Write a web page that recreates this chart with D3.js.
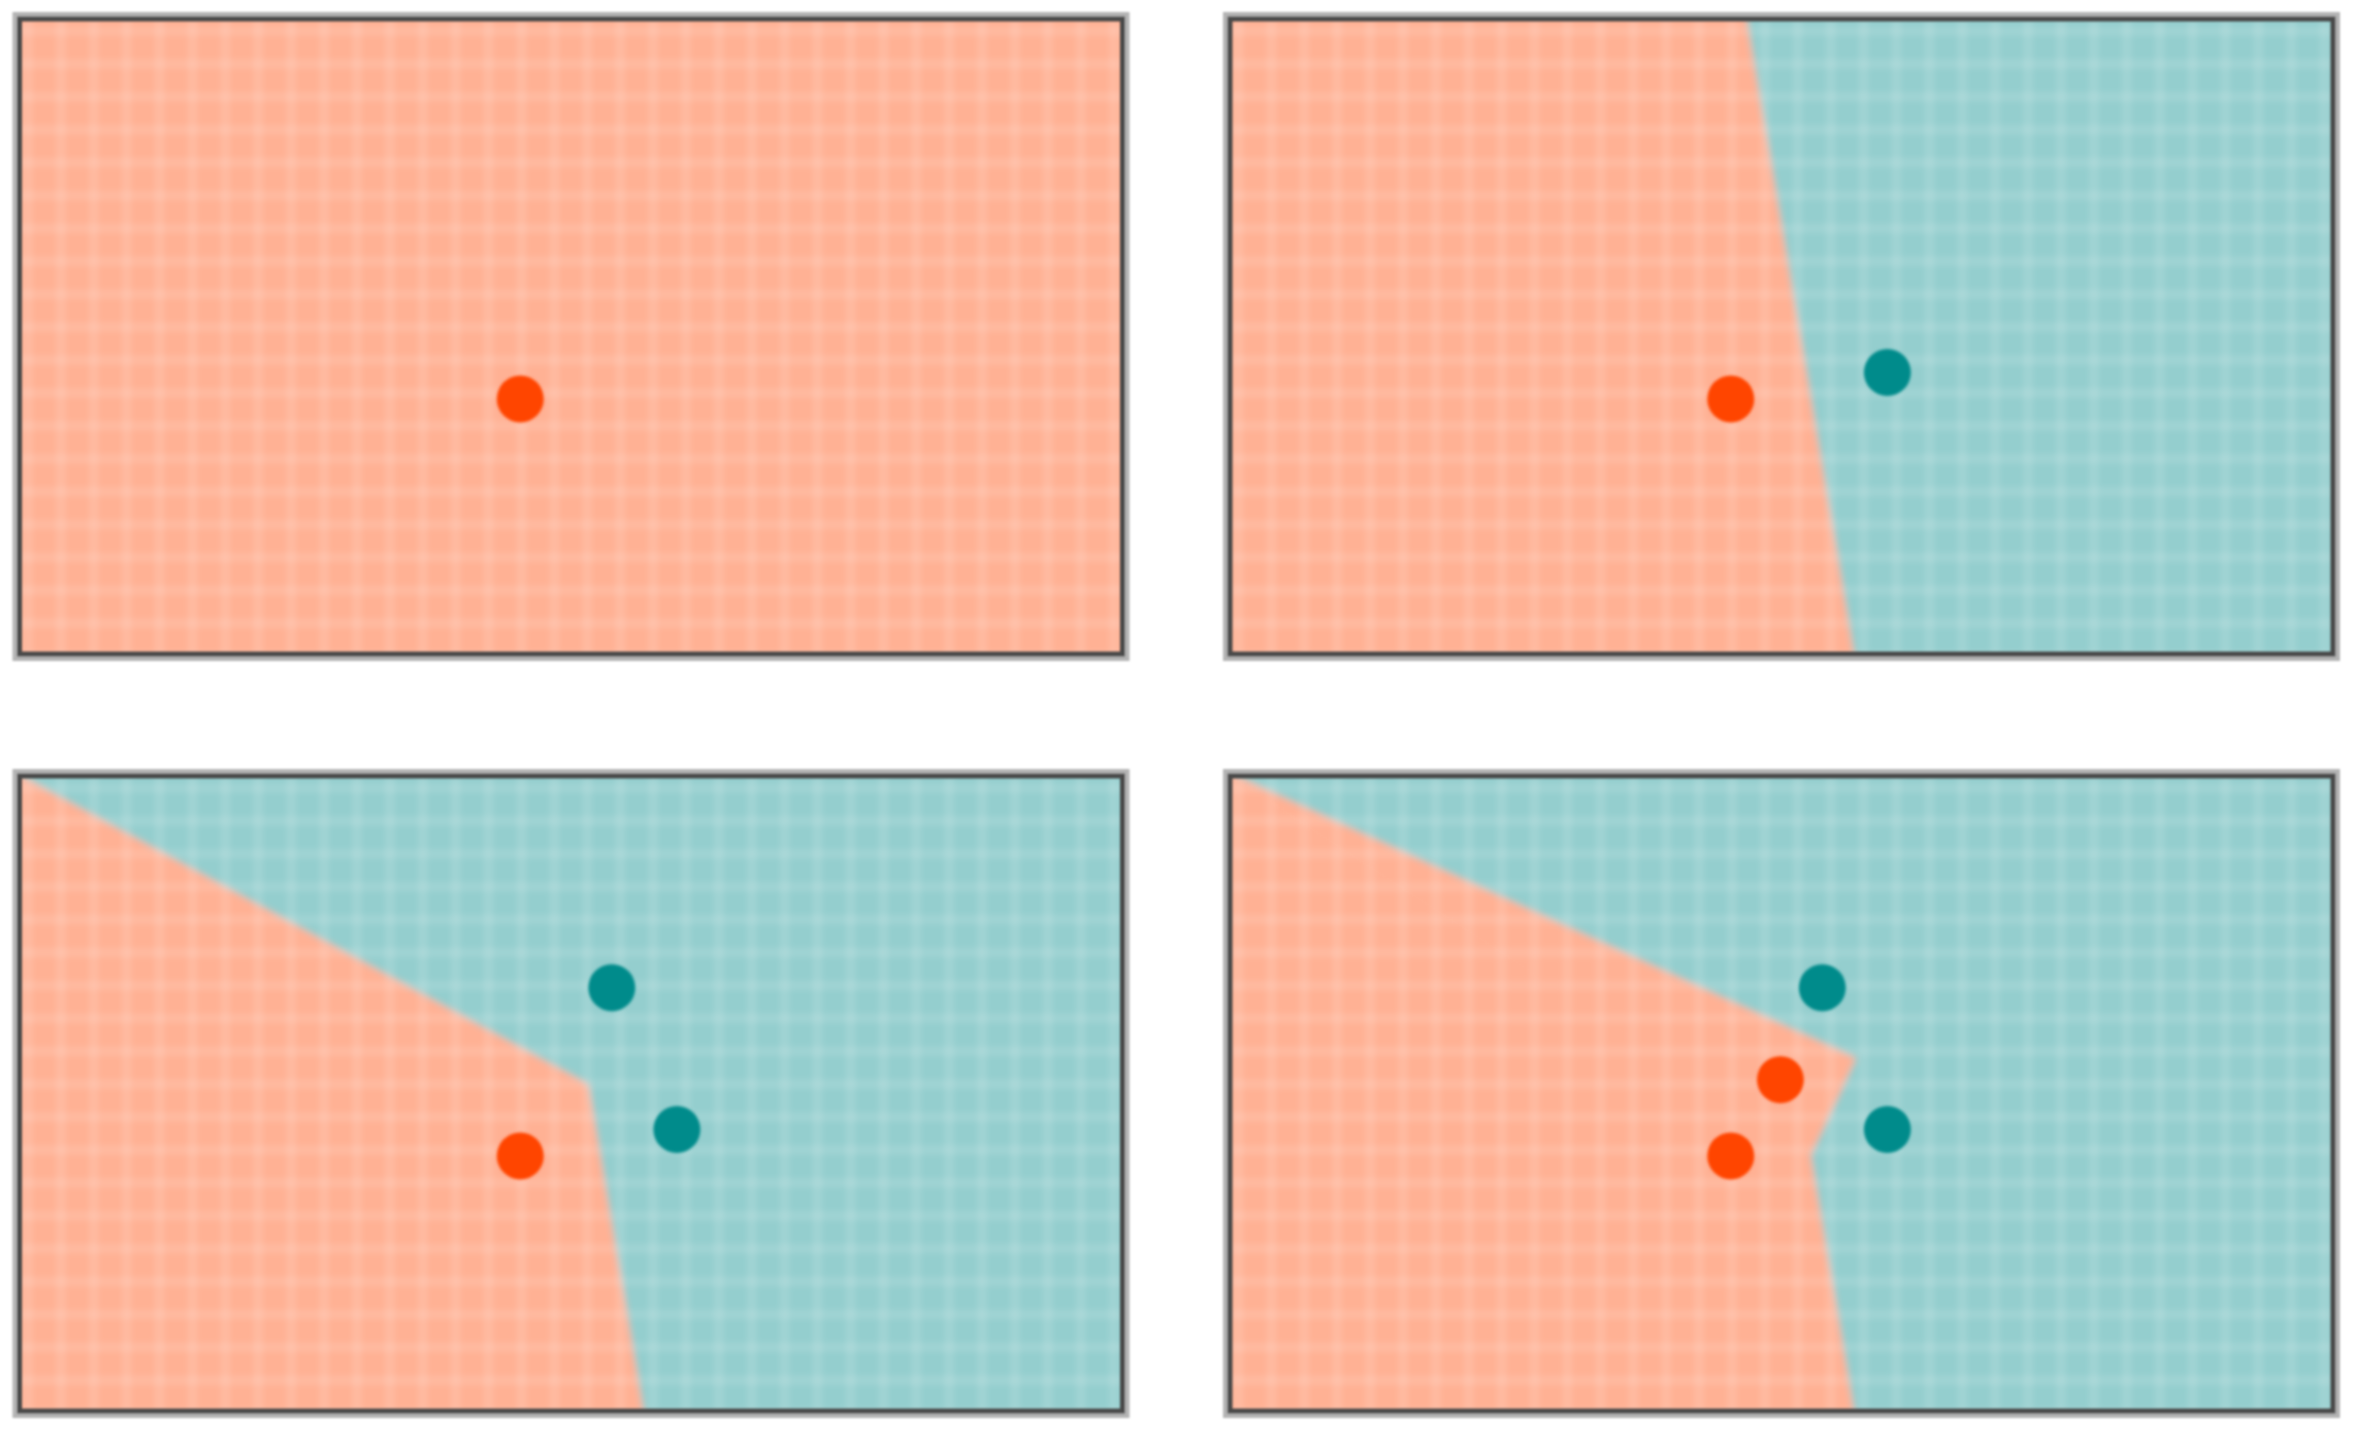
<!DOCTYPE html>
<html>
<head>
<meta charset="utf-8">
<script src="https://cdn.jsdelivr.net/npm/d3@7"></script>
<style>
  body { margin: 0; background: #fff; }
  svg { display: block; }
</style>
</head>
<body>
<svg width="2357" height="1434"></svg>
<script>
// points in the order they get added, one panel per step
const pointX = [4.54, 5.96, 5.37, 4.99];
const pointY = [2.41, 2.66, 4.0, 3.13];
const pointClass = ["red", "teal", "teal", "red"];
const panelCounts = [1, 2, 3, 4];

const CLASS_COLORS = {
  red: "#ff4500",
  teal: "#008b8b",
};

const PANEL = { width: 1103, height: 635 };
const PANEL_LEFT = [19.5, 1230];
const PANEL_TOP = [19, 776];
const GRID_STEP = 32.9;

// region colour = point colour washed out over white
const regionColor = (cls) => d3.interpolateRgb("#fff", CLASS_COLORS[cls])(0.42);

const svg = d3.select("svg");

const x = d3.scaleLinear().domain([0, 10]).range([0, PANEL.width]);
const y = d3.scaleLinear().domain([0, 6]).range([PANEL.height, 0]);

const defs = svg.append("defs");

defs
  .append("clipPath")
  .attr("id", "panel-clip")
  .append("rect")
  .attr("width", PANEL.width)
  .attr("height", PANEL.height);

function blurFilter(id, sd, margin) {
  defs
    .append("filter")
    .attr("id", id)
    .attr("x", `-${margin}%`)
    .attr("y", `-${margin}%`)
    .attr("width", `${100 + 2 * margin}%`)
    .attr("height", `${100 + 2 * margin}%`)
    .append("feGaussianBlur")
    .attr("stdDeviation", sd);
}
blurFilter("soft", 3.5, 5);
blurFilter("dot-blur", 1.4, 50);
blurFilter("edge-blur", 1.3, 2);
blurFilter("grid-blur", 2.6, 2);

const pattern = defs
  .append("pattern")
  .attr("id", "grid")
  .attr("patternUnits", "userSpaceOnUse")
  .attr("x", 8.5 - GRID_STEP / 2)
  .attr("y", 12 - GRID_STEP / 2)
  .attr("width", GRID_STEP)
  .attr("height", GRID_STEP);

pattern
  .append("rect")
  .attr("x", GRID_STEP / 2 - 5)
  .attr("width", 10)
  .attr("height", GRID_STEP)
  .attr("fill", "#fff")
  .attr("fill-opacity", 0.11);

pattern
  .append("rect")
  .attr("y", GRID_STEP / 2 - 5)
  .attr("width", GRID_STEP)
  .attr("height", 10)
  .attr("fill", "#fff")
  .attr("fill-opacity", 0.1);

panelCounts.forEach((n, i) => {
  const col = i % 2;
  const row = Math.floor(i / 2);
  const pts = d3.range(n).map((k) => ({
    x: x(pointX[k]),
    y: y(pointY[k]),
    cls: pointClass[k],
  }));

  const g = svg
    .append("g")
    .attr("transform", `translate(${PANEL_LEFT[col]},${PANEL_TOP[row]})`);

  // 1-nearest-neighbour regions = voronoi cells of the points
  const pad = 40;
  const delaunay = d3.Delaunay.from(pts, (d) => d.x, (d) => d.y);
  const voronoi = delaunay.voronoi([-pad, -pad, PANEL.width + pad, PANEL.height + pad]);
  const fullRect = [
    [-pad, -pad],
    [PANEL.width + pad, -pad],
    [PANEL.width + pad, PANEL.height + pad],
    [-pad, PANEL.height + pad],
  ];

  const clipped = g.append("g").attr("clip-path", "url(#panel-clip)");

  clipped
    .append("g")
    .attr("filter", "url(#soft)")
    .selectAll("path")
    .data(pts)
    .enter()
    .append("path")
    .attr("d", (d, k) => {
      const poly = voronoi.cellPolygon(k) || fullRect;
      return "M" + poly.map((p) => p.join(",")).join("L") + "Z";
    })
    .attr("fill", (d) => regionColor(d.cls))
    .attr("stroke", (d) => regionColor(d.cls))
    .attr("stroke-width", 1);

  clipped
    .append("rect")
    .attr("width", PANEL.width)
    .attr("height", PANEL.height)
    .attr("fill", "url(#grid)")
    .attr("filter", "url(#grid-blur)");

  g.append("g")
    .attr("filter", "url(#dot-blur)")
    .selectAll("circle")
    .data(pts)
    .enter()
    .append("circle")
    .attr("cx", (d) => d.x)
    .attr("cy", (d) => d.y)
    .attr("r", 23.5)
    .attr("fill", (d) => CLASS_COLORS[d.cls]);

  // frame: soft grey halo plus dark line
  const frame = g.append("g").attr("filter", "url(#edge-blur)");
  frame
    .append("rect")
    .attr("x", -4)
    .attr("y", -4)
    .attr("width", PANEL.width + 8)
    .attr("height", PANEL.height + 8)
    .attr("fill", "none")
    .attr("stroke", "#b4b4b4")
    .attr("stroke-width", 6);
  frame
    .append("rect")
    .attr("width", PANEL.width)
    .attr("height", PANEL.height)
    .attr("fill", "none")
    .attr("stroke", "#4a4a4a")
    .attr("stroke-width", 5);
});
</script>
</body>
</html>
